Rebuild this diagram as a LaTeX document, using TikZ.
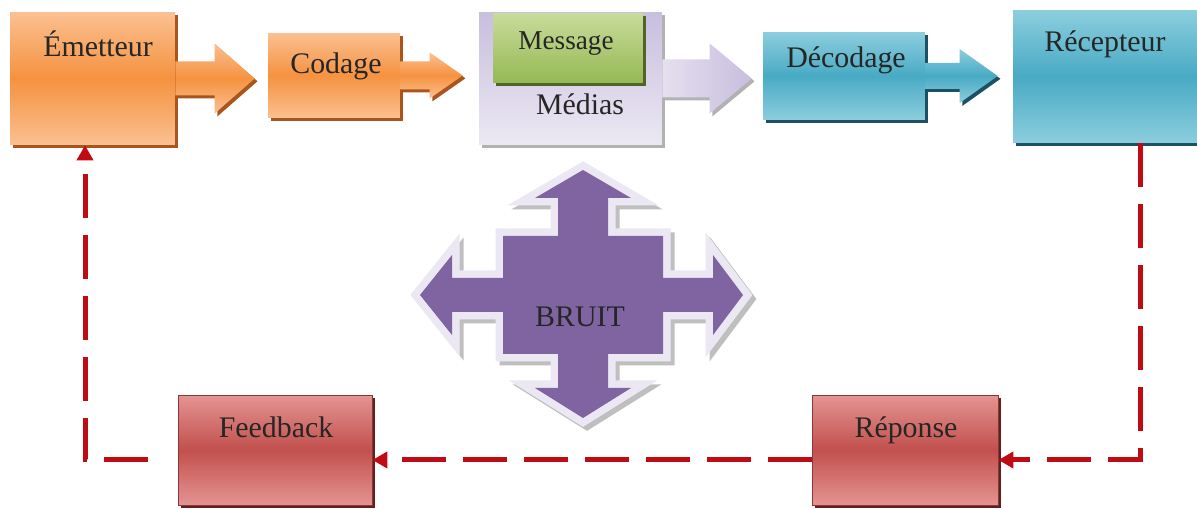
\documentclass[tikz,border=0pt]{standalone}
\usepackage{fontspec}
\setmainfont{Liberation Serif}
\usepackage{tikz}
\usetikzlibrary{positioning,calc,shadows,arrows.meta}
\definecolor{orange-clair}{RGB}{251,192,145}
\definecolor{orange-fonce}{RGB}{245,146,64}
\definecolor{orange-ombre}{RGB}{170,85,30}
\definecolor{bleu-clair}{RGB}{140,206,222}
\definecolor{bleu-fonce}{RGB}{72,170,196}
\definecolor{bleu-ombre}{RGB}{30,80,100}
\definecolor{vert-clair}{RGB}{200,220,155}
\definecolor{vert-fonce}{RGB}{150,184,84}
\definecolor{vert-ombre}{RGB}{80,100,40}
\definecolor{lavande}{RGB}{200,190,222}
\definecolor{lavande-clair}{RGB}{236,232,243}
\definecolor{rouge-clair}{RGB}{228,148,146}
\definecolor{rouge-fonce}{RGB}{194,80,77}
\definecolor{rouge-ombre}{RGB}{100,30,30}
\definecolor{violet-bruit}{RGB}{128,100,162}
\definecolor{dark-red}{RGB}{192,10,20}

% fleche pleine : depart, pointe, demi-tige, demi-tete, longueur tete
\newcommand{\flecheBloc}[6][]{%
  \coordinate (fb-s) at (#2);
  \coordinate (fb-t) at (#2 -| #3);
  \path[#1] ($(fb-s)+(0,-#4)$) -- ($(fb-t)+(-#6,-#4)$) -- ($(fb-t)+(-#6,-#5)$)
    -- (fb-t) -- ($(fb-t)+(-#6,#5)$) -- ($(fb-t)+(-#6,#4)$) -- ($(fb-s)+(0,#4)$) -- cycle;
}
\newcommand{\formeCroix}{(-80,-59) -- (-25,-59) -- (-25,-97) -- (-48,-97) -- (0,-125)
  -- (48,-97) -- (25,-97) -- (25,-59) -- (80,-59) -- (80,-17) -- (130,-17) -- (130,-40)
  -- (160,0) -- (130,40) -- (130,17) -- (80,17) -- (80,59) -- (25,59) -- (25,93)
  -- (48,93) -- (0,123) -- (-48,93) -- (-25,93) -- (-25,59) -- (-80,59) -- (-80,17)
  -- (-131,17) -- (-131,40) -- (-163,0) -- (-131,-40) -- (-131,-17) -- (-80,-17) -- cycle}

\begin{document}
\begin{tikzpicture}
[
  x=0.02cm, y=-0.02cm,
  boite/.style={rectangle, inner sep=0pt},
  orangebox/.style={boite, top color=orange-clair, bottom color=orange-clair, middle color=orange-fonce,
    drop shadow={shadow xshift=1.6pt, shadow yshift=-1.6pt, fill=orange-ombre, opacity=1}},
  bleubox/.style={boite, top color=bleu-clair, bottom color=bleu-clair, middle color=bleu-fonce,
    drop shadow={shadow xshift=1.6pt, shadow yshift=-1.6pt, fill=bleu-ombre, opacity=1}},
  vertbox/.style={boite, top color=vert-clair, bottom color=vert-fonce,
    drop shadow={shadow xshift=1.6pt, shadow yshift=-1.6pt, fill=vert-ombre, opacity=1}},
  lavbox/.style={boite, top color=lavande, bottom color=lavande-clair,
    drop shadow={shadow xshift=1.6pt, shadow yshift=-1.6pt, fill=gray!60, opacity=1}},
  rougebox/.style={boite, draw=rouge-fonce!70!black, thin, top color=rouge-clair, bottom color=rouge-clair, middle color=rouge-fonce,
    drop shadow={shadow xshift=1.6pt, shadow yshift=-1.6pt, fill=rouge-ombre, opacity=1}},
  texte/.style={font=\fontsize{17}{20}\selectfont, text=black!85, anchor=base, inner sep=0pt},
  retour/.style={draw=dark-red, line width=0.1cm, dash pattern=on 0.88cm off 0.34cm},
  pointe/.style={-{Triangle[length=0.3cm, width=0.32cm]}},
]
\useasboundingbox[fill=white] (0,0) rectangle (1197,509);

% boites du haut
\node[orangebox, minimum width=3.3cm, minimum height=2.66cm] (emet) at (92.5,78.5) {};
\node[orangebox, minimum width=2.64cm, minimum height=1.7cm] (codage) at (334,75.5) {};
\node[lavbox, minimum width=3.66cm, minimum height=2.66cm] (medias) at (570.5,78.5) {};
\node[vertbox, minimum width=3.0cm, minimum height=1.4cm] (message) at (568,48) {};
\node[bleubox, minimum width=3.24cm, minimum height=1.76cm] (decodage) at (844,76) {};
\node[bleubox, minimum width=3.68cm, minimum height=2.66cm] (recep) at (1105,76.5) {};

% boites du bas
\node[rougebox, minimum width=3.88cm, minimum height=2.2cm] (feedback) at (275,450) {};
\node[rougebox, minimum width=3.72cm, minimum height=2.2cm] (reponse) at (905,450) {};

% fleches pleines
\coordinate (pointe1) at ($(codage.west)+(-13,0)$);
\coordinate (pointe2) at ($(medias.west)+(-16,0)$);
\coordinate (pointe3) at ($(decodage.west)+(-11,0)$);
\coordinate (pointe4) at ($(recep.west)+(-15,0)$);
\flecheBloc[top color=orange-clair, bottom color=orange-clair, middle color=orange-fonce,
  drop shadow={shadow xshift=1.6pt, shadow yshift=-1.6pt, fill=orange-ombre, opacity=1}]{emet.east}{pointe1}{17}{35}{40}
\flecheBloc[top color=orange-clair, bottom color=orange-clair, middle color=orange-fonce,
  drop shadow={shadow xshift=1.6pt, shadow yshift=-1.6pt, fill=orange-ombre, opacity=1}]{codage.east}{pointe2}{14}{23}{33}
\flecheBloc[left color=lavande-clair!80!lavande, right color=lavande,
  drop shadow={shadow xshift=1.6pt, shadow yshift=-1.6pt, fill=gray!60, opacity=1}]{medias.east}{pointe3}{19}{35}{42}
\flecheBloc[top color=bleu-clair, bottom color=bleu-clair, middle color=bleu-fonce,
  drop shadow={shadow xshift=1.6pt, shadow yshift=-1.6pt, fill=bleu-ombre, opacity=1}]{decodage.east}{pointe4}{13}{27}{38}

% textes
\node[texte] (t-emet) at (98,57) {Émetteur};
\node[texte] (t-codage) at (336,74) {Codage};
\node[texte, font=\fontsize{15.5}{18}\selectfont] (t-message) at (566,50) {Message};
\node[texte] (t-medias) at (580,115) {Médias};
\node[texte] (t-decodage) at (846,68) {Décodage};
\node[texte] (t-recep) at (1105,52) {Récepteur};
\node[texte] (t-feedback) at (276,438) {Feedback};
\node[texte] (t-reponse) at (906,438) {Réponse};

% bruit
\begin{scope}[shift={(583,295)}]
  \draw[line width=0.3cm, draw=gray!50, fill=gray!50, line join=miter, shift={(4,4)}] \formeCroix;
  \draw[line width=0.3cm, draw=lavande-clair, fill=lavande-clair, line join=miter] \formeCroix;
  \fill[violet-bruit] \formeCroix;
\end{scope}
\node[texte] (t-bruit) at (580,327) {BRUIT};

% boucle de retour
\coordinate (coin-d) at (1140,460);
\coordinate (coin-g) at (85,460);
\draw[retour, pointe] (recep.south -| coin-d) -- (coin-d) -- (coin-d -| reponse.east);
\draw[retour, pointe] (coin-d -| reponse.west) -- (coin-d -| feedback.east);
\draw[retour, pointe] ($(coin-g -| feedback.west)+(-30,0)$) -- (coin-g) -- (emet.south -| coin-g);
\end{tikzpicture}
\end{document}
